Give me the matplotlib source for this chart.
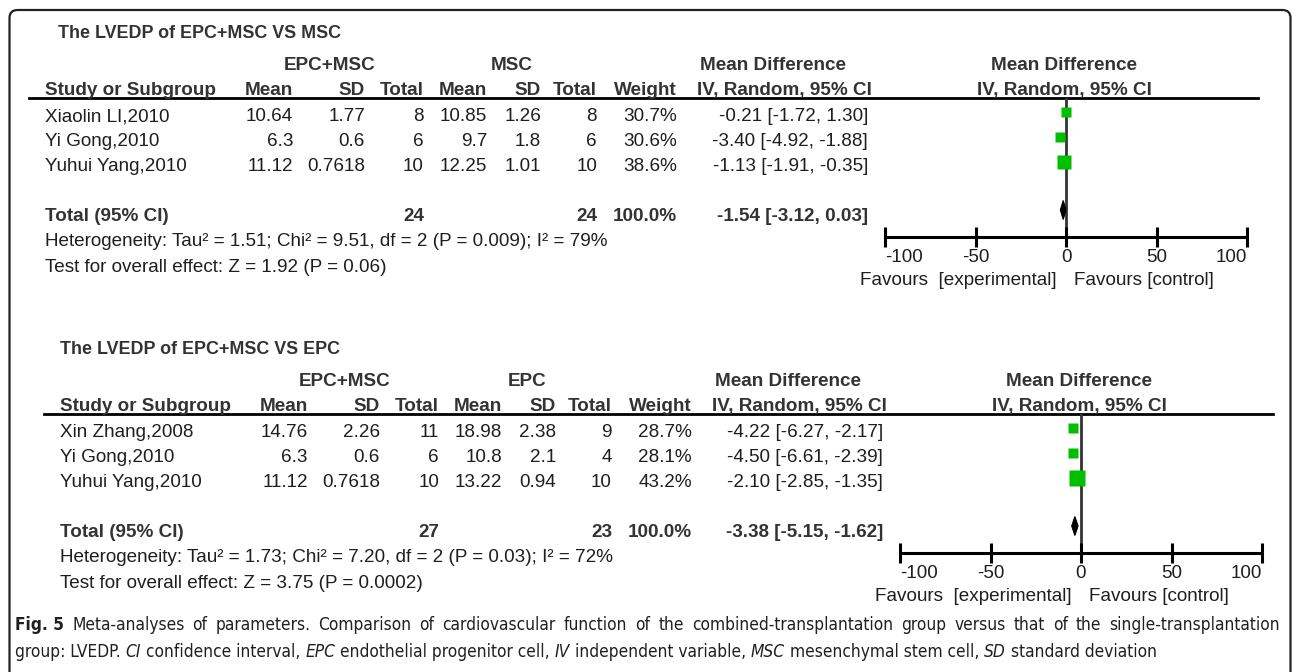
import numpy as np
import matplotlib.pyplot as plt
from matplotlib.patches import FancyBboxPatch, Polygon

W, H = 1292, 672

# top panel: EPC+MSC vs MSC
a_title = "The LVEDP of EPC+MSC VS MSC"
a_groups = ["EPC+MSC", "MSC"]
a_studies = ["Xiaolin LI,2010", "Yi Gong,2010", "Yuhui Yang,2010"]
a_exp_mean = [10.64, 6.3, 11.12]
a_exp_sd = [1.77, 0.6, 0.7618]
a_exp_n = [8, 6, 10]
a_ctl_mean = [10.85, 9.7, 12.25]
a_ctl_sd = [1.26, 1.8, 1.01]
a_ctl_n = [8, 6, 10]
a_weight = [30.7, 30.6, 38.6]
a_md = [-0.21, -3.40, -1.13]
a_lo = [-1.72, -4.92, -1.91]
a_hi = [1.30, -1.88, -0.35]
a_total = [-1.54, -3.12, 0.03]
a_het = "Heterogeneity: Tau² = 1.51; Chi² = 9.51, df = 2 (P = 0.009); I² = 79%"
a_test = "Test for overall effect: Z = 1.92 (P = 0.06)"

# bottom panel: EPC+MSC vs EPC
b_title = "The LVEDP of EPC+MSC VS EPC"
b_groups = ["EPC+MSC", "EPC"]
b_studies = ["Xin Zhang,2008", "Yi Gong,2010", "Yuhui Yang,2010"]
b_exp_mean = [14.76, 6.3, 11.12]
b_exp_sd = [2.26, 0.6, 0.7618]
b_exp_n = [11, 6, 10]
b_ctl_mean = [18.98, 10.8, 13.22]
b_ctl_sd = [2.38, 2.1, 0.94]
b_ctl_n = [9, 4, 10]
b_weight = [28.7, 28.1, 43.2]
b_md = [-4.22, -4.50, -2.10]
b_lo = [-6.27, -6.61, -2.85]
b_hi = [-2.17, -2.39, -1.35]
b_total = [-3.38, -5.15, -1.62]
b_het = "Heterogeneity: Tau² = 1.73; Chi² = 7.20, df = 2 (P = 0.03); I² = 72%"
b_test = "Test for overall effect: Z = 3.75 (P = 0.0002)"

ticks = [-100, -50, 0, 50, 100]

FAM = ['Liberation Sans', 'DejaVu Sans']
FS = 13.55
TXT = '#1e1e1e'
HDR = '#333333'
GREEN = '#00bf00'

fig = plt.figure(figsize=(W / 100, H / 100), dpi=100)
over = fig.add_axes([0, 0, 1, 1])
over.set_xlim(0, W)
over.set_ylim(H, 0)
over.axis('off')

over.add_patch(FancyBboxPatch((9.5, 10), 1281, 720, boxstyle="round,pad=0,rounding_size=8",
                              fc='none', ec='#222222', lw=1.6, clip_on=False))


def txt(x, y, s, ha='left', va='center', bold=False, size=FS, color=None):
    over.text(x, y, s, ha=ha, va=va, fontsize=size, family=FAM,
              fontweight='bold' if bold else 'normal',
              color=color or (HDR if bold else TXT))


def panel(row0, dx, tx, title, groups, studies, em, es, en, cm, cs, cn, wt, md, lo, hi, tot, het, test):
    step = 25
    cols = np.array([293, 365, 424, 487, 541, 597, 677, 868]) + dx
    x_study = 45 + dx

    txt(tx, row0 - 79, title, bold=True, size=12.9)
    txt(330 + dx, row0 - 47, groups[0], ha='center', bold=True)
    txt(512 + dx, row0 - 47, groups[1], ha='center', bold=True)
    txt(773 + dx, row0 - 47, "Mean Difference", ha='center', bold=True)
    txt(1064 + dx, row0 - 47, "Mean Difference", ha='center', bold=True)

    yb = row0 - 17
    txt(x_study, yb, "Study or Subgroup", va='baseline', bold=True)
    for x, s in zip(cols, ["Mean", "SD", "Total", "Mean", "SD", "Total", "Weight"]):
        txt(x, yb, s, ha='right', va='baseline', bold=True)
    txt(784 + dx, yb, "IV, Random, 95% CI", ha='center', va='baseline', bold=True)
    txt(1064 + dx, yb, "IV, Random, 95% CI", ha='center', va='baseline', bold=True)
    over.plot([29 + dx, 1258 + dx], [row0 - 14, row0 - 14], color='black', lw=2)

    for i in range(len(studies)):
        y = row0 + i * step + 4.5
        txt(x_study, y, studies[i])
        vals = [f"{em[i]:g}", f"{es[i]:g}", f"{en[i]}", f"{cm[i]:g}", f"{cs[i]:g}",
                f"{cn[i]}", f"{wt[i]:.1f}%", f"{md[i]:.2f} [{lo[i]:.2f}, {hi[i]:.2f}]"]
        for x, s in zip(cols, vals):
            txt(x, y, s, ha='right')

    yt = row0 + 4 * step + 4.5
    txt(x_study, yt, "Total (95% CI)", bold=True)
    txt(cols[2], yt, f"{sum(en)}", ha='right', bold=True)
    txt(cols[5], yt, f"{sum(cn)}", ha='right', bold=True)
    txt(cols[6], yt, "100.0%", ha='right', bold=True)
    txt(cols[7], yt, f"{tot[0]:.2f} [{tot[1]:.2f}, {tot[2]:.2f}]", ha='right', bold=True)
    txt(x_study, row0 + 130, het)
    txt(x_study, row0 + 155, test)

    # forest plot
    x0, x1 = 885 + dx, 1247 + dx
    top, bot = row0 - 14, row0 + 125
    ax = fig.add_axes([x0 / W, 1 - bot / H, (x1 - x0) / W, (bot - top) / H])
    ax.set_xlim(ticks[0], ticks[-1])
    ax.set_ylim(5.0, -14 / step)
    ax.patch.set_alpha(0)
    for s in ['top', 'left', 'right']:
        ax.spines[s].set_visible(False)
    ax.spines['bottom'].set_linewidth(2.2)
    ax.spines['bottom'].set_capstyle('butt')
    ax.set_yticks([])
    ax.set_xticks(ticks)
    ax.set_xticklabels([str(t) for t in ticks], fontsize=FS, family=FAM, color=TXT)
    labs = ax.get_xticklabels()
    labs[0].set_ha('left')
    labs[-1].set_ha('right')
    ax.tick_params(axis='x', direction='inout', length=14, width=2.2, pad=1.5)
    ax.axvline(0, color='#333333', lw=2, zorder=1)

    rows = np.arange(len(md))
    ax.hlines(rows, lo, hi, color='black', lw=1, zorder=2)
    for r, m, w in zip(rows, md, wt):
        ax.plot(m, r, 's', ms=0.252 * w, color=GREEN, mec='none', zorder=3)
    rt = 4 - 0.08
    ax.add_patch(Polygon([[tot[1], rt], [tot[0], rt - 0.38], [tot[2], rt], [tot[0], rt + 0.38]],
                         closed=True, fc='black', ec='black', lw=0.8, zorder=3))

    ax.annotate("Favours  [experimental]", xy=(0, 0), xycoords=('data', 'axes fraction'),
                xytext=(-7, -31.5), textcoords='offset points', ha='right', va='center',
                fontsize=FS, family=FAM, color=TXT)
    ax.annotate("Favours [control]", xy=(0, 0), xycoords=('data', 'axes fraction'),
                xytext=(6, -31.5), textcoords='offset points', ha='left', va='center',
                fontsize=FS, family=FAM, color=TXT)


panel(112, 0, 58, a_title, a_groups, a_studies, a_exp_mean, a_exp_sd, a_exp_n, a_ctl_mean,
      a_ctl_sd, a_ctl_n, a_weight, a_md, a_lo, a_hi, a_total, a_het, a_test)
panel(428, 15, 60, b_title, b_groups, b_studies, b_exp_mean, b_exp_sd, b_exp_n, b_ctl_mean,
      b_ctl_sd, b_ctl_n, b_weight, b_md, b_lo, b_hi, b_total, b_het, b_test)

# caption: line 1 is justified, line 2 set ragged; one text per word / style run
CAP_FAM = ['DejaVu Sans']
CAP_STRETCH = 'condensed'
line1 = [("Fig. 5", 'bold', 'normal')] + [
    (w, 'normal', 'normal') for w in
    ("Meta-analyses of parameters. Comparison of cardiovascular function of the "
     "combined-transplantation group versus that of the single-transplantation").split()]
line2 = [("group: LVEDP.", 'normal', 'normal'), ("CI", 'normal', 'italic'),
         ("confidence interval,", 'normal', 'normal'), ("EPC", 'normal', 'italic'),
         ("endothelial progenitor cell,", 'normal', 'normal'), ("IV", 'normal', 'italic'),
         ("independent variable,", 'normal', 'normal'), ("MSC", 'normal', 'italic'),
         ("mesenchymal stem cell,", 'normal', 'normal'), ("SD", 'normal', 'italic'),
         ("standard deviation", 'normal', 'normal')]

renderer = fig.canvas.get_renderer()


def width(s, size, **kw):
    t = over.text(0, 0, s, fontsize=size, family=CAP_FAM, stretch=CAP_STRETCH, **kw)
    w = t.get_window_extent(renderer).width
    t.remove()
    return w


def space(size):
    return width("n n", size) - width("nn", size)


def run(x, y, parts, size, gap=None):
    sp = space(size) if gap is None else gap
    for k, (text, weight, style) in enumerate(parts):
        over.text(x, y, text, fontsize=size, family=CAP_FAM, stretch=CAP_STRETCH,
                  fontweight=weight, fontstyle=style, color='#231f20',
                  va='center', ha='left')
        x += width(text, size, fontweight=weight, fontstyle=style)
        if k < len(parts) - 1:
            x += sp


# size chosen so that line 1 fills the width with moderately widened spaces
size0 = 12
ink0 = sum(width(t, size0, fontweight=wt, fontstyle=st) for t, wt, st in line1)
nat0 = ink0 + 1.6 * space(size0) * (len(line1) - 1)
cap_size = size0 * (1280 - 15) / nat0

ink1 = sum(width(t, cap_size, fontweight=wt, fontstyle=st) for t, wt, st in line1)
gap1 = (1280 - 15 - ink1) / (len(line1) - 1)
run(15, 625, line1, cap_size, gap=gap1)
run(15, 652, line2, cap_size)

fig.savefig("out.png", dpi=100)
